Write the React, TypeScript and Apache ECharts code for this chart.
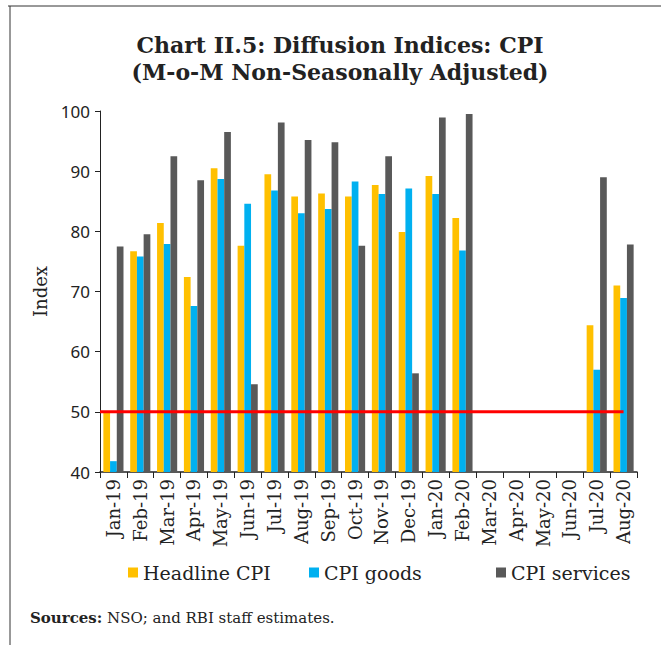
import React, { useEffect, useRef } from "react";
import * as echarts from "echarts";

const categories = [
  "Jan-19", "Feb-19", "Mar-19", "Apr-19", "May-19", "Jun-19", "Jul-19", "Aug-19", "Sep-19", "Oct-19",
  "Nov-19", "Dec-19", "Jan-20", "Feb-20", "Mar-20", "Apr-20", "May-20", "Jun-20", "Jul-20", "Aug-20",
];
const headlineCPI = [
  50.0, 76.7, 81.4, 72.4, 90.5, 77.6, 89.5, 85.8, 86.3, 85.8,
  87.7, 79.9, 89.2, 82.2, null, null, null, null, 64.4, 71.0,
];
const cpiGoods = [
  41.8, 75.8, 77.9, 67.6, 88.7, 84.6, 86.8, 83.0, 83.7, 88.3,
  86.2, 87.1, 86.2, 76.8, null, null, null, null, 57.0, 68.9,
];
const cpiServices = [
  77.5, 79.5, 92.5, 88.5, 96.5, 54.6, 98.1, 95.2, 94.8, 77.6,
  92.5, 56.4, 98.9, 99.5, null, null, null, null, 89.0, 77.8,
];
const threshold = 50;
const yTicks = { min: 40, max: 100, interval: 10 };

const SERIF = "DejaVu Serif";

export default function App() {
  const ref = useRef<HTMLDivElement>(null);
  useEffect(() => {
    if (!ref.current) return;
    const chart = echarts.init(ref.current, null, { renderer: "svg" });
    const n = categories.length;
    const legendText = {
      fontFamily: SERIF,
      fontSize: 19,
      color: "#222",
      rich: { s: { fontFamily: SERIF, fontSize: 19, color: "#222" } },
    };
    const legendBase = {
      icon: "rect",
      itemWidth: 10,
      itemHeight: 10,
      itemGap: 5,
      padding: 0,
      top: 563,
      formatter: "{s|{name}}",
      textStyle: legendText,
    };
    chart.setOption({
      animation: false,
      backgroundColor: "#fff",
      textStyle: { fontFamily: SERIF },
      title: {
        text: "Chart II.5: Diffusion Indices: CPI\n(M-o-M Non-Seasonally Adjusted)",
        left: 335,
        top: 26,
        textAlign: "center",
        textStyle: {
          fontFamily: SERIF,
          fontWeight: "bold",
          fontSize: 22,
          lineHeight: 27,
          color: "#222",
        },
      },
      grid: { left: 100, right: 24, top: 111, bottom: 173, containLabel: false },
      legend: [
        { ...legendBase, left: 128, data: ["Headline CPI"] },
        { ...legendBase, left: 309, data: ["CPI goods"] },
        { ...legendBase, left: 496, data: ["CPI services"] },
      ],
      xAxis: [
        {
          type: "category",
          data: categories,
          axisLine: { show: true, lineStyle: { color: "#222", width: 1.5 } },
          axisTick: { show: true, interval: 0, length: 6, alignWithLabel: false, lineStyle: { color: "#222" } },
          axisLabel: {
            interval: 0,
            rotate: 90,
            margin: 7,
            fontFamily: SERIF,
            fontSize: 18,
            color: "#222",
          },
          splitLine: { show: false },
        },
        {
          type: "value",
          min: 0,
          max: n,
          show: false,
        },
      ],
      yAxis: {
        type: "value",
        min: yTicks.min,
        max: yTicks.max,
        interval: yTicks.interval,
        name: "Index",
        nameLocation: "middle",
        nameGap: 50,
        nameTextStyle: { fontFamily: SERIF, fontSize: 18, color: "#222" },
        axisLine: { show: true, lineStyle: { color: "#222", width: 1 } },
        axisTick: { show: true, length: 5, lineStyle: { color: "#222" } },
        axisLabel: { margin: 10, fontFamily: "Noto Sans", fontSize: 17, color: "#222" },
        splitLine: { show: false },
      },
      series: [
        {
          name: "Headline CPI", type: "bar", data: headlineCPI,
          barGap: "0%", barCategoryGap: "25%", itemStyle: { color: "#FFC000" },
        },
        {
          name: "CPI goods", type: "bar", data: cpiGoods,
          barGap: "0%", barCategoryGap: "25%", itemStyle: { color: "#00B0F0" },
        },
        {
          name: "CPI services", type: "bar", data: cpiServices,
          barGap: "0%", barCategoryGap: "25%", itemStyle: { color: "#595959" },
        },
        {
          name: "Threshold", type: "line", xAxisIndex: 1, z: 5,
          data: [[0, threshold], [n - 0.5, threshold]],
          symbol: "none", silent: true,
          lineStyle: { color: "#FF0000", width: 3 },
        },
      ],
      graphic: [
        { type: "line", shape: { x1: 8, y1: 6, x2: 661, y2: 6 }, style: { stroke: "#333", lineWidth: 1 } },
        { type: "line", shape: { x1: 10, y1: 6, x2: 10, y2: 645 }, style: { stroke: "#333", lineWidth: 1 } },
        {
          type: "text",
          left: 30,
          top: 610,
          style: {
            text: "{b|Sources:} NSO; and RBI staff estimates.",
            fontFamily: SERIF,
            fontSize: 15,
            fill: "#222",
            rich: {
              b: { fontFamily: SERIF, fontSize: 15, fontWeight: "bold", fill: "#222" },
            },
          },
        },
      ],
    });
    return () => chart.dispose();
  }, []);
  return (
    <div
      ref={ref}
      style={{ position: "fixed", left: 0, top: 0, width: 661, height: 645 }}
    />
  );
}
